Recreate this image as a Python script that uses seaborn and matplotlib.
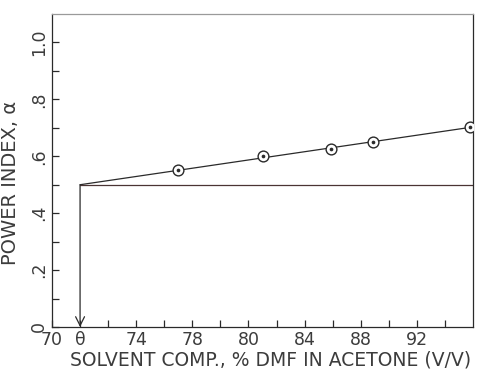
import matplotlib
matplotlib.use("Agg")
import matplotlib.pyplot as plt
import seaborn as sns
import pandas as pd

# ---- data ----
comp = [79.0, 85.0, 89.9, 92.9, 99.8]          # solvent composition (axis units)
alpha = [0.551, 0.601, 0.627, 0.650, 0.702]    # power index
fit_x = [72.0, 100.0]
fit_y = [0.500, 0.703]
theta_x = 72.0
theta_alpha = 0.5
x_tick_pos = [70, 72, 76, 80, 84, 88, 92, 96]
x_tick_lab = ["70", "θ", "74", "78", "80", "84", "88", "92"]
x_minor = [74, 78, 82, 86, 90, 94, 98]
y_tick_pos = [0, 0.2, 0.4, 0.6, 0.8, 1.0]
y_tick_lab = ["0", ".2", ".4", ".6", ".8", "1.0"]
y_minor = [0.1, 0.3, 0.5, 0.7, 0.9]

sns.set_theme(style="white")
plt.rcParams['font.family'] = ['DejaVu Sans']

fig = plt.figure(figsize=(4.78, 3.70), dpi=100)
ax = fig.add_axes([52/478, 43/370, 421/478, 313/370])

ink = "#2a2a2a"
txt = "#3c3c3c"
df = pd.DataFrame({"x": comp, "y": alpha})
fit = pd.DataFrame({"x": fit_x, "y": fit_y})
hl = pd.DataFrame({"x": [theta_x, 100.0], "y": [theta_alpha, theta_alpha]})

sns.lineplot(data=fit, x="x", y="y", ax=ax, color=ink, lw=0.9)
sns.lineplot(data=hl, x="x", y="y", ax=ax, color="#4a3434", lw=0.9)
sns.scatterplot(data=df, x="x", y="y", ax=ax, s=60, marker="o",
                facecolor="white", edgecolor=ink, linewidth=1.0, zorder=5)
sns.scatterplot(data=df, x="x", y="y", ax=ax, s=7, color=ink,
                edgecolor=ink, linewidth=0, zorder=6)

ax.annotate("", xy=(theta_x, 0.0), xytext=(theta_x, theta_alpha),
            arrowprops=dict(arrowstyle="->", color=ink, lw=0.9,
                            shrinkA=0, shrinkB=0, mutation_scale=16))

ax.set_xlim(70, 100)
ax.set_ylim(0, 1.1)
ax.set_xticks(x_tick_pos)
ax.set_xticklabels(x_tick_lab, fontsize=12.5, color=txt)
ax.set_xticks(x_minor, minor=True)
ax.set_yticks(y_tick_pos)
ax.set_yticklabels(y_tick_lab, fontsize=12.5, color=txt, rotation=90, va="center")
ax.set_yticks(y_minor, minor=True)
ax.tick_params(axis="both", which="both", direction="in", length=5, width=0.9,
               colors=ink, labelcolor=txt)
ax.tick_params(axis="x", which="both", pad=3, top=False, bottom=True)
ax.tick_params(axis="y", which="both", pad=3, left=True, right=False)

for side, sp in ax.spines.items():
    sp.set_visible(True)
    sp.set_linewidth(0.9)
    sp.set_color(ink)
ax.spines["top"].set_color("#9a9a9a")

ax.set_xlabel("SOLVENT COMP., % DMF IN ACETONE (V/V)", fontsize=13.5, color=txt,
              labelpad=0)
ax.xaxis.set_label_coords(0.52, -0.075)
ax.set_ylabel("POWER INDEX, α", fontsize=14, color=txt, labelpad=4)
ax.yaxis.set_label_coords(-0.075, 0.46)
ax.grid(False)

fig.savefig("out.png", dpi=100)
